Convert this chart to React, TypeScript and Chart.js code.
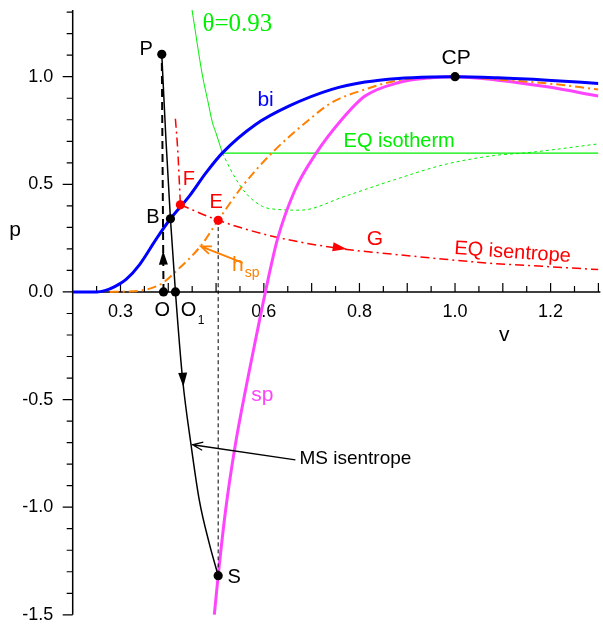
import React, { useEffect, useRef } from 'react';
import { Chart, registerables } from 'chart.js';

Chart.register(...registerables);

// ---------- axis ranges / tick labels ----------
const V_MIN = 0.2;
const V_MAX = 1.3;
const P_MIN = -1.5;
const P_MAX = 1.31;
const xTickLabels = [0.3, 0.6, 0.8, 1.0, 1.2];
const yTickLabels = [-1.5, -1.0, -0.5, 0.0, 0.5, 1.0];

// ---------- curves ----------
// binodal (bi)
const biV = [0.2, 0.25, 0.2672, 0.288, 0.3123, 0.34, 0.3747, 0.4045, 0.444, 0.4788, 0.5133, 0.5828, 0.6521, 0.7422, 0.8117, 0.881, 0.9503, 1.0, 1.089, 1.193, 1.3];
const biP = [0, 0, 0.006, 0.0247, 0.0595, 0.1274, 0.2456, 0.34, 0.445, 0.553, 0.646, 0.778, 0.863, 0.941, 0.975, 0.992, 0.999, 1.0, 0.995, 0.984, 0.969];

// spinodal (sp)
const spV = [0.4963, 0.5044, 0.52, 0.5397, 0.5658, 0.5855, 0.6032, 0.6282, 0.6656, 0.7077, 0.763, 0.8117, 0.881, 0.9503, 1.0, 1.089, 1.193, 1.3];
const spP = [-1.5, -1.318, -1.013, -0.718, -0.408, -0.191, 0, 0.243, 0.476, 0.639, 0.801, 0.91, 0.972, 0.995, 1.0, 0.984, 0.953, 0.91];

// h_sp curve
const hspV = [0.2776, 0.3123, 0.34, 0.365, 0.3885, 0.4163, 0.4684, 0.5044, 0.555, 0.6174, 0.6869, 0.7422, 0.8117, 0.881, 1.0, 1.089, 1.193, 1.3];
const hspP = [0, 0.002, 0.006, 0.018, 0.042, 0.096, 0.215, 0.333, 0.491, 0.647, 0.786, 0.88, 0.941, 0.983, 1.0, 0.987, 0.969, 0.941];

// EQ isentrope (upper branch to F, then F -> G)
const eqsUpV = [0.4149, 0.4197, 0.4232, 0.4253];
const eqsUpP = [0.805, 0.662, 0.507, 0.405];
const eqsV = [0.4253, 0.5044, 0.6174, 0.7493, 0.881, 0.9782, 1.0822, 1.193, 1.3];
const eqsP = [0.405, 0.333, 0.259, 0.205, 0.173, 0.152, 0.132, 0.118, 0.104];

// isotherm theta = 0.93 (solid part), EQ isotherm (horizontal), metastable part (dashed)
const thV = [0.4497, 0.4717, 0.4821, 0.4925, 0.4996, 0.5133];
const thP = [1.31, 1.003, 0.894, 0.786, 0.74, 0.645];
const eqtV = [0.5133, 1.3];
const eqtP = [0.645, 0.645];
const thDashV = [0.5133, 0.5341, 0.562, 0.5966, 0.6313, 0.6765, 0.7701, 0.8741, 0.9782, 1.0822, 1.1515, 1.3];
const thDashP = [0.645, 0.553, 0.46, 0.398, 0.383, 0.38, 0.445, 0.522, 0.592, 0.634, 0.647, 0.688];

// MS isentrope P -> B -> O1 -> S
const msV = [0.3864, 0.3951, 0.4045, 0.415, 0.4301, 0.4476, 0.4648, 0.4856, 0.5044];
const msP = [1.104, 0.708, 0.34, 0, -0.408, -0.71, -0.966, -1.167, -1.318];

// O -> P (dashed) and E -> S (thin dashed)
const opV = [0.39, 0.3864];
const opP = [0, 1.104];
const esV = [0.5044, 0.5044];
const esP = [0.333, -1.318];

// marked points
const blackPtNames = ['P', 'B', 'O', 'O1', 'S', 'CP'];
const blackPtV = [0.3864, 0.4045, 0.39, 0.415, 0.5044, 1.0];
const blackPtP = [1.104, 0.34, 0, 0, -1.318, 1.0];
const redPtNames = ['F', 'E'];
const redPtV = [0.4253, 0.5044];
const redPtP = [0.405, 0.333];

const pts = (xs: number[], ys: number[]) => xs.map((x, i) => ({ x, y: ys[i] }));

const SANS = '"Liberation Sans", Arial, sans-serif';
const SERIF = '"Liberation Serif", "Times New Roman", serif';

type Lbl = { t: string; v: number; p: number; c: string; size: number; align?: CanvasTextAlign; rot?: number; serif?: boolean };
const labels: Lbl[] = [
  { t: 'P', v: 0.3539, p: 1.127, c: '#000', size: 20 },
  { t: 'B', v: 0.3677, p: 0.344, c: '#000', size: 20 },
  { t: 'O', v: 0.3874, p: -0.0856, c: '#000', size: 20 },
  { t: 'O', v: 0.4424, p: -0.0856, c: '#000', size: 20 },
  { t: '1', v: 0.4684, p: -0.134, c: '#000', size: 12 },
  { t: 'S', v: 0.5377, p: -1.327, c: '#000', size: 20 },
  { t: 'CP', v: 1.0023, p: 1.088, c: '#000', size: 21 },
  { t: 'bi', v: 0.6036, p: 0.89, c: '#0000FF', size: 21 },
  { t: 'F', v: 0.443, p: 0.521, c: '#FF0000', size: 20 },
  { t: 'E', v: 0.5002, p: 0.418, c: '#FF0000', size: 20 },
  { t: 'G', v: 0.8325, p: 0.243, c: '#FF0000', size: 21 },
  { t: 'EQ isentrope', v: 1.1203, p: 0.183, c: '#FF0000', size: 20, rot: 4 },
  { t: 'EQ isotherm', v: 0.8831, p: 0.7005, c: '#00EE00', size: 20 },
  { t: 'θ=0.93', v: 0.5445, p: 1.243, c: '#00EE00', size: 25, serif: true },
  { t: 'h', v: 0.5456, p: 0.122, c: '#FF8000', size: 21 },
  { t: 'sp', v: 0.5757, p: 0.086, c: '#FF8000', size: 14 },
  { t: 'sp', v: 0.5966, p: -0.479, c: '#FF44FF', size: 21 },
  { t: 'MS isentrope', v: 0.6744, p: -0.7753, c: '#000', size: 19, align: 'left' },
  { t: 'v', v: 1.103, p: -0.199, c: '#000', size: 21 },
];

// arrows (data coordinates of tail and tip)
type Arr = { from: [number, number]; to: [number, number]; c: string; filled: boolean; lw?: number };
const arrows: Arr[] = [
  { from: [0.3897, 0.135], to: [0.3893, 0.192], c: '#000', filled: true },
  { from: [0.4301, -0.375], to: [0.4315, -0.44], c: '#000', filled: true },
  { from: [0.7389, 0.212], to: [0.7734, 0.2], c: '#FF0000', filled: true },
  { from: [0.5558, 0.135], to: [0.4684, 0.212], c: '#FF8000', filled: false, lw: 1.8 },
  { from: [0.666, -0.78], to: [0.4509, -0.71], c: '#000', filled: false, lw: 1.3 },
];

const overlay = {
  id: 'overlay',
  beforeDatasetsDraw(chart: any) {
    const { ctx, chartArea, scales } = chart;
    const xs = scales.x, ys = scales.y;
    const y0 = ys.getPixelForValue(0);
    ctx.save();
    ctx.strokeStyle = '#000';
    ctx.lineWidth = 1.5;
    ctx.beginPath();
    ctx.moveTo(chartArea.left, chartArea.top);
    ctx.lineTo(chartArea.left, chartArea.bottom);
    ctx.moveTo(chartArea.left, y0);
    ctx.lineTo(chartArea.right + 2, y0);
    ctx.stroke();
    ctx.lineWidth = 1.2;
    ctx.beginPath();
    for (let k = 5; k <= 26; k++) {
      const v = k * 0.05;
      const px = xs.getPixelForValue(v);
      const len = k % 2 === 0 ? 9 : 6;
      ctx.moveTo(px, y0);
      ctx.lineTo(px, y0 - len);
    }
    for (let k = -15; k <= 13; k++) {
      const p = k * 0.1;
      const py = ys.getPixelForValue(p);
      const len = k % 5 === 0 ? 10 : 6;
      ctx.moveTo(chartArea.left, py);
      ctx.lineTo(chartArea.left - len, py);
    }
    ctx.stroke();
    ctx.restore();
  },
  afterDatasetsDraw(chart: any) {
    const { ctx, chartArea, scales } = chart;
    const xs = scales.x, ys = scales.y;
    ctx.save();
    for (const a of arrows) {
      const x1 = xs.getPixelForValue(a.from[0]);
      const y1 = ys.getPixelForValue(a.from[1]);
      const x2 = xs.getPixelForValue(a.to[0]);
      const y2 = ys.getPixelForValue(a.to[1]);
      const ang = Math.atan2(y2 - y1, x2 - x1);
      ctx.strokeStyle = a.c;
      ctx.fillStyle = a.c;
      if (a.filled) {
        const L = 14, W = 4.5;
        ctx.beginPath();
        ctx.moveTo(x2, y2);
        ctx.lineTo(x2 - L * Math.cos(ang) + W * Math.sin(ang), y2 - L * Math.sin(ang) - W * Math.cos(ang));
        ctx.lineTo(x2 - L * Math.cos(ang) - W * Math.sin(ang), y2 - L * Math.sin(ang) + W * Math.cos(ang));
        ctx.closePath();
        ctx.fill();
      } else {
        ctx.lineWidth = a.lw || 1.3;
        ctx.beginPath();
        ctx.moveTo(x1, y1);
        ctx.lineTo(x2, y2);
        const L = 11, spread = 0.38;
        ctx.moveTo(x2 + L * Math.cos(ang + Math.PI - spread), y2 + L * Math.sin(ang + Math.PI - spread));
        ctx.lineTo(x2, y2);
        ctx.lineTo(x2 + L * Math.cos(ang + Math.PI + spread), y2 + L * Math.sin(ang + Math.PI + spread));
        ctx.stroke();
      }
    }
    ctx.textBaseline = 'middle';
    for (const l of labels) {
      const px = xs.getPixelForValue(l.v);
      const py = ys.getPixelForValue(l.p);
      ctx.font = `${l.size}px ${l.serif ? SERIF : SANS}`;
      ctx.fillStyle = l.c;
      ctx.textAlign = l.align || 'center';
      if (l.rot) {
        ctx.save();
        ctx.translate(px, py);
        ctx.rotate((l.rot * Math.PI) / 180);
        ctx.fillText(l.t, 0, 0);
        ctx.restore();
      } else {
        ctx.fillText(l.t, px, py);
      }
    }
    ctx.font = `21px ${SANS}`;
    ctx.fillStyle = '#000';
    ctx.textAlign = 'center';
    ctx.fillText('p', chartArea.left - 57.7, ys.getPixelForValue(0.289));
    ctx.restore();
  },
};

export default function App() {
  const ref = useRef<HTMLCanvasElement | null>(null);
  useEffect(() => {
    document.body.style.margin = '0';
    const canvas = ref.current;
    if (!canvas) return;
    const line = (data: any[], color: string, width: number, dash: number[] = []) => ({
      type: 'scatter',
      data,
      showLine: true,
      borderColor: color,
      backgroundColor: color,
      borderWidth: width,
      borderDash: dash,
      pointRadius: 0,
      pointHoverRadius: 0,
      cubicInterpolationMode: 'monotone',
      fill: false,
    });
    const dots = (data: any[], color: string) => ({
      type: 'scatter',
      data,
      showLine: false,
      pointRadius: 4.6,
      pointBackgroundColor: color,
      pointBorderColor: color,
      pointBorderWidth: 0,
    });
    const dashDot = [9, 4, 2, 4];
    const chart = new Chart(canvas, {
      type: 'scatter',
      data: {
        datasets: [
          dots(pts(redPtV, redPtP), '#FF0000'),
          dots(pts(blackPtV, blackPtP), '#000000'),
          line(pts(opV, opP), '#000000', 2, [8, 5]),
          line(pts(esV, esP), '#000000', 1, [4, 3]),
          line(pts(msV, msP), '#000000', 1.5),
          line(pts(biV, biP), '#0000FF', 3),
          line(pts(hspV, hspP), '#FF8000', 2, dashDot),
          line(pts(spV, spP), '#FF44FF', 3),
          line(pts(eqsUpV, eqsUpP), '#FF0000', 1.5, dashDot),
          line(pts(eqsV, eqsP), '#FF0000', 1.5, dashDot),
          line(pts(thV, thP), '#00EE00', 1),
          line(pts(eqtV, eqtP), '#00EE00', 1.2),
          line(pts(thDashV, thDashP), '#00EE00', 1, [3, 3]),
        ] as any,
      },
      options: {
        responsive: false,
        animation: false,
        devicePixelRatio: 1,
        layout: { padding: { top: 10, bottom: 9.2, right: 1.6, left: 0 } },
        plugins: { legend: { display: false }, tooltip: { enabled: false } },
        events: [],
        scales: {
          x: {
            type: 'linear',
            min: V_MIN,
            max: V_MAX,
            position: { y: 0 } as any,
            grid: { display: false, drawTicks: false },
            border: { display: false },
            afterBuildTicks: (s: any) => { s.ticks = xTickLabels.map((v) => ({ value: v })); },
            afterFit: (s: any) => { s.paddingLeft = 0; s.paddingRight = 0; },
            ticks: {
              padding: 9,
              color: '#000',
              font: { family: SANS, size: 18 },
              maxRotation: 0,
              autoSkip: false,
              callback: (v: any) => Number(v).toFixed(1),
            },
          },
          y: {
            type: 'linear',
            min: P_MIN,
            max: P_MAX,
            position: 'left',
            grid: { display: false, drawTicks: false },
            border: { display: false },
            afterBuildTicks: (s: any) => { s.ticks = yTickLabels.map((v) => ({ value: v })); },
            afterFit: (s: any) => { s.width = 72.7; s.paddingTop = 0; s.paddingBottom = 0; },
            ticks: {
              padding: 19.4,
              color: '#000',
              font: { family: SANS, size: 18 },
              autoSkip: false,
              callback: (v: any) => Number(v).toFixed(1),
            },
          },
        },
      },
      plugins: [overlay],
    } as any);
    return () => chart.destroy();
  }, []);
  return (
    <div style={{ width: 603, height: 624, position: 'relative', background: '#fff' }}>
      <canvas ref={ref} width={603} height={624} style={{ display: 'block' }} />
    </div>
  );
}
